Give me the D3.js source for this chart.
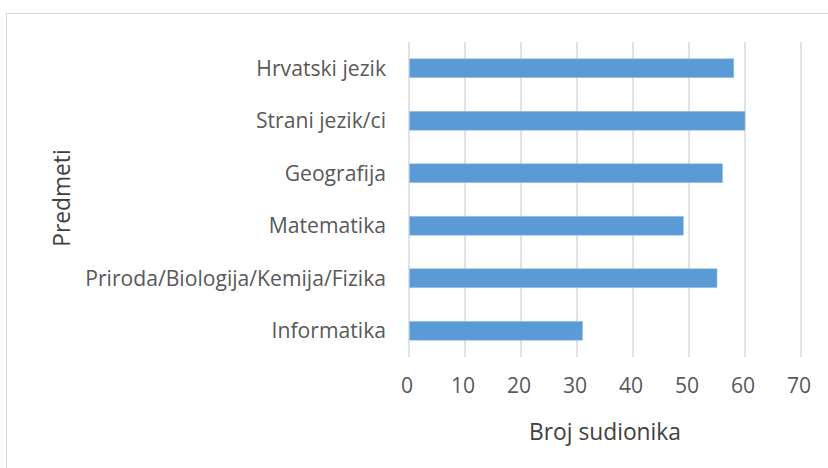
<!DOCTYPE html>
<html>
<head>
<meta charset="utf-8">
<script src="https://cdn.jsdelivr.net/npm/d3@7"></script>
<style>
  body { margin: 0; background: #fff; }
  svg { display: block; font-family: "Open Sans", sans-serif; }
</style>
</head>
<body>
<svg id="chart" width="828" height="468"></svg>
<script>
// subjects, top to bottom
const predmeti = ["Hrvatski jezik", "Strani jezik/ci", "Geografija", "Matematika",
                  "Priroda/Biologija/Kemija/Fizika", "Informatika"];
// number of participants per subject
const sudionici = [58, 60, 56, 49, 55, 31];
const xTicks = [0, 10, 20, 30, 40, 50, 60, 70];

const svg = d3.select("#chart");

// size a font so a string gets the width seen in the picture
function fitSize(str, target) {
  const t = svg.append("text").attr("font-size", 20).text(str);
  const w = t.node().getComputedTextLength();
  t.remove();
  return 20 * target / w;
}
const labelSize = fitSize("Priroda/Biologija/Kemija/Fizika", 301);
const titleSize = fitSize("Broj sudionika", 152);

// chart frame
svg.append("rect")
  .attr("x", 6.5).attr("y", 13.5)
  .attr("width", 840).attr("height", 480)
  .attr("fill", "#fff").attr("stroke", "#d9d9d9");

const plot = { left: 409, right: 801, top: 42, bottom: 357 };

const x = d3.scaleLinear().domain([0, 70]).range([plot.left, plot.right]);
const y = d3.scaleBand().domain(predmeti).range([plot.top, plot.bottom]).paddingInner(0.64).paddingOuter(0.32);

// vertical gridlines
svg.append("g")
  .selectAll("line")
  .data(xTicks)
  .join("line")
  .attr("x1", d => x(d)).attr("x2", d => x(d))
  .attr("y1", plot.top).attr("y2", plot.bottom)
  .attr("stroke", "#d9d9d9").attr("stroke-width", 1.5);

// bars
svg.append("g")
  .selectAll("rect")
  .data(predmeti)
  .join("rect")
  .attr("x", x(0) + 0.5)
  .attr("y", d => y(d))
  .attr("width", (d, i) => x(sudionici[i]) - x(0) - 0.5)
  .attr("height", y.bandwidth())
  .attr("fill", "#5b9bd5")
  .attr("stroke", "#9dc3e6").attr("stroke-width", 0.6);

// category labels
svg.append("g")
  .selectAll("text")
  .data(predmeti)
  .join("text")
  .attr("x", 386)
  .attr("y", d => y(d) + y.bandwidth() / 2)
  .attr("dy", "0.35em")
  .attr("text-anchor", "end")
  .attr("fill", "#595959")
  .attr("font-size", labelSize)
  .text(d => d);

// x tick labels
svg.append("g")
  .selectAll("text")
  .data(xTicks)
  .join("text")
  .attr("x", d => x(d) - 2)
  .attr("y", 386)
  .attr("dy", "0.35em")
  .attr("text-anchor", "middle")
  .attr("fill", "#595959")
  .attr("font-size", labelSize)
  .text(d => d);

// axis titles
svg.append("text")
  .attr("x", 605).attr("y", 432)
  .attr("dy", "0.35em")
  .attr("text-anchor", "middle")
  .attr("fill", "#404040")
  .attr("font-size", titleSize)
  .text("Broj sudionika");

svg.append("text")
  .attr("transform", "translate(62,198) rotate(-90)")
  .attr("dy", "0.35em")
  .attr("text-anchor", "middle")
  .attr("fill", "#404040")
  .attr("font-size", titleSize)
  .text("Predmeti");
</script>
</body>
</html>
